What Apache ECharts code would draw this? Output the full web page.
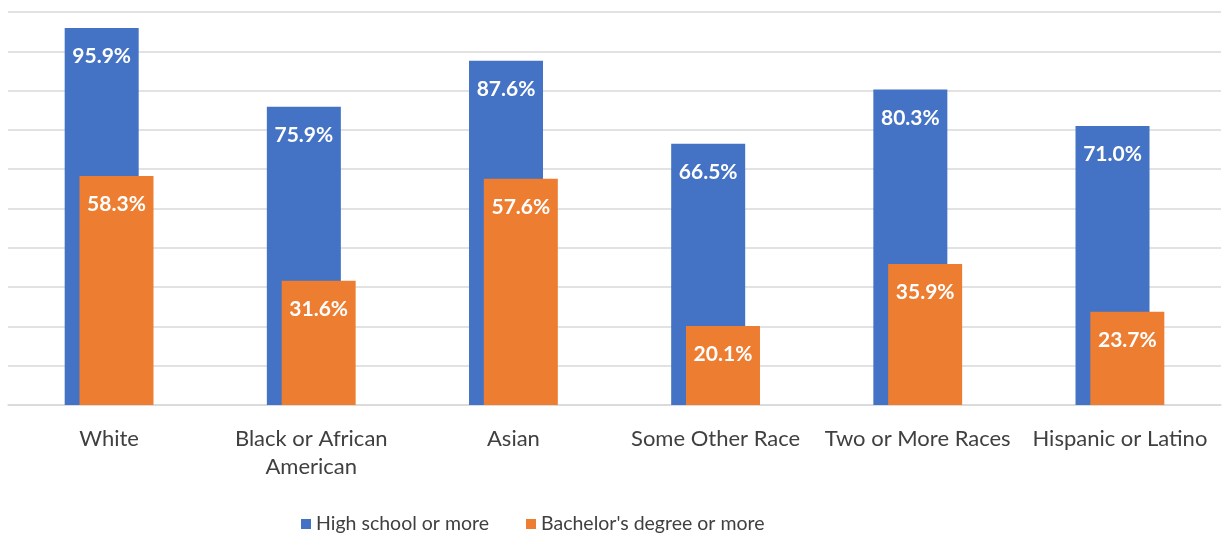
<!DOCTYPE html>
<html>
<head>
<meta charset="utf-8">
<script src="https://cdn.jsdelivr.net/npm/echarts@6/dist/echarts.min.js"></script>
<style>html,body{margin:0;padding:0;background:#fff;}#c{width:1225px;height:535px;}</style>
</head>
<body>
<div id="c"></div>
<script>
const categories = ['White', 'Black or African\nAmerican', 'Asian', 'Some Other Race', 'Two or More Races', 'Hispanic or Latino'];
const highSchool = [95.9, 75.9, 87.6, 66.5, 80.3, 71.0];
const bachelors = [58.3, 31.6, 57.6, 20.1, 35.9, 23.7];
const seriesNames = ['High school or more', "Bachelor's degree or more"];

const FONT = 'Lato, "Open Sans", sans-serif';
const chart = echarts.init(document.getElementById('c'));
const lbl = {
  show: true, position: 'insideTop', distance: 18, color: '#ffffff',
  fontWeight: 'bold', fontSize: 21, fontFamily: FONT,
  formatter: p => p.value.toFixed(1) + '%'
};
chart.setOption({
  animation: false,
  grid: { left: 8, right: 4, top: 12, bottom: 130 },
  legend: {
    bottom: -4, left: 296, itemWidth: 10, itemHeight: 10, itemGap: 37,
    icon: 'rect',
    textStyle: { fontSize: 19.5, color: '#404040', fontFamily: FONT },
    data: seriesNames
  },
  xAxis: {
    type: 'category', data: categories,
    axisLine: { show: true, lineStyle: { color: '#d9d9d9', width: 1.5 } },
    axisTick: { show: false },
    axisLabel: { color: '#404040', fontSize: 22, fontFamily: FONT, margin: 20, lineHeight: 28, interval: 0 }
  },
  yAxis: {
    type: 'value', min: 0, max: 100, interval: 10,
    axisLabel: { show: false }, axisLine: { show: false }, axisTick: { show: false },
    splitLine: { lineStyle: { color: '#d9d9d9', width: 1.5 } }
  },
  series: [
    { name: seriesNames[0], type: 'bar', data: highSchool, barWidth: 74, barGap: '-80%',
      itemStyle: { color: '#4472c4' }, label: lbl },
    { name: seriesNames[1], type: 'bar', data: bachelors, barWidth: 74,
      itemStyle: { color: '#ed7d31' }, label: lbl }
  ]
});
</script>
</body>
</html>
